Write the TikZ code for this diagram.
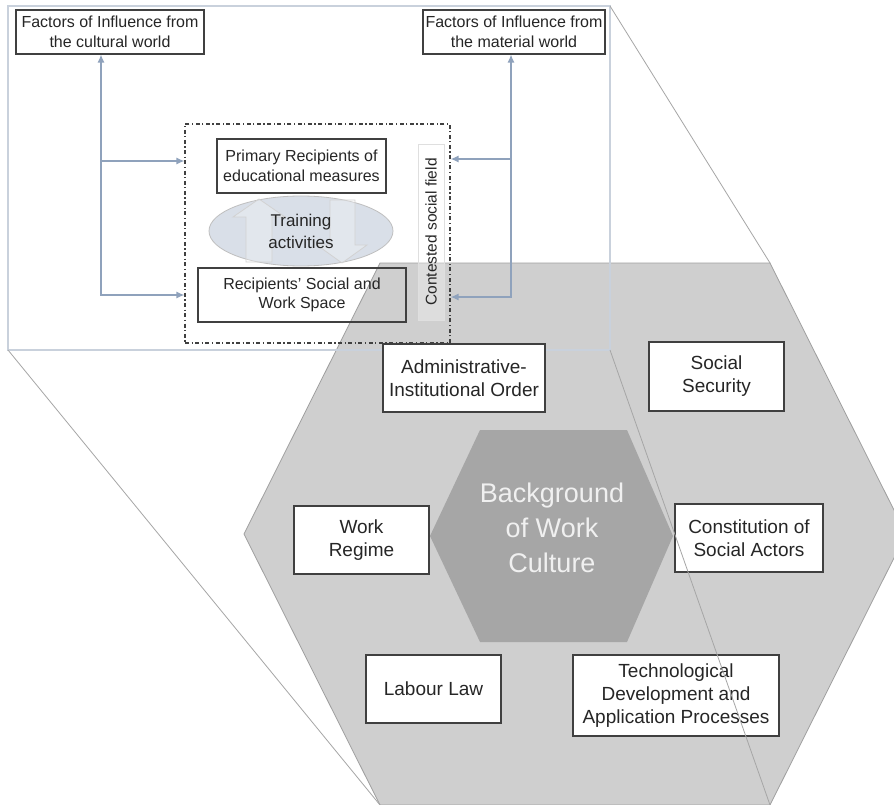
\documentclass[tikz,border=0pt]{standalone}
\usepackage{fontspec}
\setmainfont{Liberation Sans}
\usepackage{tikz}
\usetikzlibrary{arrows.meta,shapes.geometric}
\definecolor{hexlight}{HTML}{CFCFCF}
\definecolor{hexdark}{HTML}{A6A6A6}
\definecolor{framegray}{HTML}{C9D1DC}
\definecolor{linkblue}{HTML}{8FA2BC}
\definecolor{ovalfill}{HTML}{D9DFE8}

\begin{document}
\begin{tikzpicture}[x=1pt,y=-1pt,
	box/.style={draw=black!75, line width=1.3pt, fill=white, align=center, inner sep=0pt, text=black!85, font=\fontsize{19}{23}\selectfont},
	pbox/.style={box, fill=none, line width=1.1pt, font=\fontsize{16}{19.5}\selectfont},
	link/.style={linkblue, line width=1.3pt},
	tip/.style={-{Latex[length=8pt,width=7pt]}},
	zoomline/.style={gray!70, line width=0.8pt},
	blockarrow/.style={fill=white, fill opacity=0.25, draw=gray!35, line width=0.8pt}]
	\useasboundingbox (0,0) rectangle (894,805);
	\clip (0,0) rectangle (894,805);
	\fill[white] (0,0) rectangle (894,805);
	\filldraw[fill=hexlight, draw=gray!75, line width=0.8pt] (380,263) -- (770,263) -- (906,534) -- (770,805) -- (380,805) -- (244,534) -- cycle;
	\fill[hexdark] (480,430) -- (627,430) -- (673,536) -- (627,642) -- (480,642) -- (430,536) -- cycle;
	\node[text=white!94!black, align=center, font=\fontsize{27}{35}\selectfont] (core) at (552,528) {Background\\of Work\\Culture};
	\draw[framegray, line width=1.3pt] (8,6) rectangle (610,350);
	\node[pbox, minimum width=188, minimum height=44] (cult) at (110,32) {Factors of Influence from\\the cultural world};
	\node[pbox, minimum width=182, minimum height=44] (mater) at (514,32) {Factors of Influence from\\the material world};
	\node[draw=black!75, line width=1.2pt, dash pattern=on 4pt off 2.5pt on 1.2pt off 2.5pt, minimum width=265, minimum height=219, inner sep=0pt] (field) at (317.5,233.5) {};
	\node[pbox, minimum width=169, minimum height=54] (prim) at (301.5,166) {Primary Recipients of\\educational measures};
	\node[pbox, minimum width=208, minimum height=54] (space) at (302,295) {Recipients' Social and\\Work Space};
	\node[pbox, rotate=90, minimum width=176, minimum height=26, draw=gray!25, line width=0.6pt, fill=white, fill opacity=0.3, text opacity=1, font=\fontsize{15.5}{18}\selectfont] (contest) at (431,232) {Contested social field};
	\node[ellipse, fill=ovalfill, draw=gray!50, line width=0.8pt, minimum width=184, minimum height=70, inner sep=0pt] (oval) at (301,231) {};
	\draw[blockarrow] (246,262) -- (246,217) -- (233,217) -- (259,199) -- (285,217) -- (272,217) -- (272,262) -- cycle;
	\draw[blockarrow] (330,200) -- (355,200) -- (355,245) -- (367,245) -- (342,263) -- (317,245) -- (330,245) -- cycle;
	\node[align=center, text=black!85, font=\fontsize{17}{22}\selectfont] (train) at (oval.center) {Training\\activities};
	\coordinate (lt) at (101,161);
	\coordinate (lb) at (101,295);
	\coordinate (rt) at (511,159);
	\coordinate (rb) at (511,297);
	\draw[link, {Latex[length=8pt,width=7pt]}-{Latex[length=8pt,width=7pt]}] (lb |- cult.south) -- (lb) -- (lb -| field.west);
	\draw[link, tip] (lt) -- (lt -| field.west);
	\draw[link, {Latex[length=8pt,width=7pt]}-{Latex[length=8pt,width=7pt]}] (rb |- mater.south) -- (rb) -- (rb -| field.east);
	\draw[link, tip] (rt) -- (rt -| field.east);
	\node[box, minimum width=162, minimum height=68] (admin) at (464,378) {Administrative-\\Institutional Order};
	\node[box, minimum width=135, minimum height=69] (secur) at (716.5,376.5) {Social\\Security};
	\node[box, minimum width=135, minimum height=68] (regime) at (361.5,540) {Work\\Regime};
	\node[box, minimum width=148, minimum height=68] (actors) at (749,538) {Constitution of\\Social Actors};
	\node[box, minimum width=135, minimum height=68] (labour) at (433.5,689) {Labour Law};
	\node[box, minimum width=206, minimum height=81] (techno) at (676,695.5) {Technological\\Development and\\Application Processes};
	\draw[zoomline] (610,6) -- (770,263);
	\draw[zoomline] (8,350) -- (380,805);
	\draw[zoomline] (610,350) -- (770,805);
\end{tikzpicture}
\end{document}
